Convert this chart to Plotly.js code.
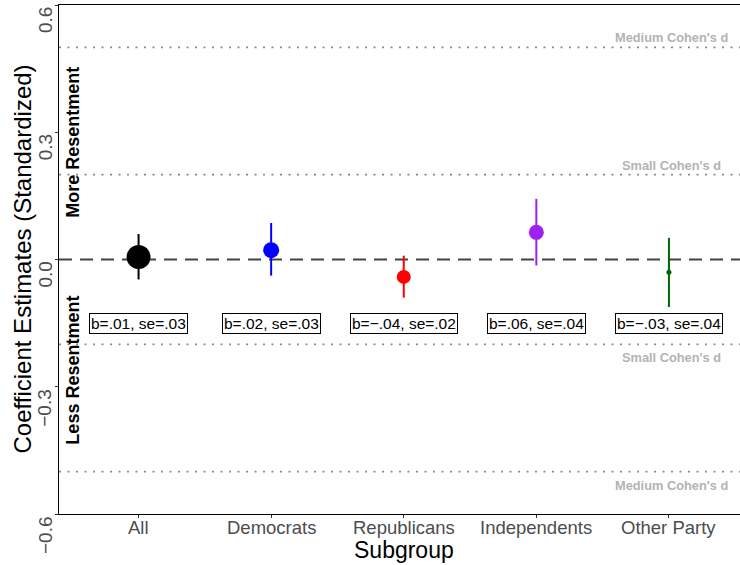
<!DOCTYPE html>
<html>
<head>
<meta charset="utf-8">
<script src="https://cdn.plot.ly/plotly-3.0.1.min.js"></script>
<style>html,body{margin:0;padding:0;background:#fff;}#chart{width:740px;height:565px;}</style>
</head>
<body>
<div id="chart"></div>
<script>
// Data
const categories = ["All", "Democrats", "Republicans", "Independents", "Other Party"];
const estimates = [0.006, 0.022, -0.041, 0.064, -0.030];
const ciLow = [-0.047, -0.038, -0.090, -0.014, -0.112];
const ciHigh = [0.060, 0.086, 0.009, 0.143, 0.051];
const colors = ["#000000", "#0000ff", "#ff0000", "#a020f0", "#006400"];
const markerSizes = [24, 16, 14, 15, 5];
const labels = ["b=.01, se=.03", "b=.02, se=.03", "b=\u2212.04, se=.02", "b=.06, se=.04", "b=\u2212.03, se=.04"];
const labelY = -0.15;
const cohenLines = [0.5, 0.2, -0.2, -0.5];
const cohenNames = ["Medium Cohen's d", "Small Cohen's d", "Small Cohen's d", "Medium Cohen's d"];
const yTickVals = [0.6, 0.3, 0.0, -0.3, -0.6];
const yTickText = ["0.6", "0.3", "0.0", "\u22120.3", "\u22120.6"];

const FONT = "Liberation Sans, Arial, sans-serif";

const traces = categories.map((c, i) => ({
  type: "scatter",
  mode: "markers",
  x: [c],
  y: [estimates[i]],
  marker: {color: colors[i], size: markerSizes[i], line: {width: 0}},
  error_y: {
    type: "data", symmetric: false,
    array: [ciHigh[i] - estimates[i]],
    arrayminus: [estimates[i] - ciLow[i]],
    color: colors[i], thickness: 2, width: 0
  },
  showlegend: false,
  hoverinfo: "skip"
}));

const shapes = [];
cohenLines.forEach(v => shapes.push({
  type: "line", xref: "paper", x0: 0, x1: 1, yref: "y", y0: v, y1: v,
  line: {color: "#8a8a8a", width: 1.6, dash: "2px,6.5px"}, layer: "below"
}));
shapes.push({
  type: "line", xref: "paper", x0: 0, x1: 1, yref: "y", y0: 0, y1: 0,
  line: {color: "#444444", width: 1.8, dash: "13px,8px"}, layer: "below"
});

const annotations = [];
// estimate labels
categories.forEach((c, i) => annotations.push({
  x: c, y: labelY, xref: "x", yref: "y", text: labels[i], showarrow: false,
  font: {family: FONT, size: 15.5, color: "#000"},
  bgcolor: "#ffffff", bordercolor: "#000000", borderwidth: 1, borderpad: 1
}));
// Cohen's d labels
cohenLines.forEach((v, i) => annotations.push({
  x: 4.02, y: v, xref: "x", yref: "y", text: "<b>" + cohenNames[i] + "</b>", showarrow: false,
  yanchor: v > 0 ? "bottom" : "top", yshift: v > 0 ? 0 : -4,
  font: {family: FONT, size: 12.8, color: "#b3b3b3"}
}));
// Region labels
annotations.push({
  x: 0, xref: "paper", xanchor: "center", xshift: 14, y: 0.275, yref: "y",
  text: "<b>More Resentment</b>", textangle: -90, showarrow: false,
  font: {family: FONT, size: 18, color: "#000"}
});
annotations.push({
  x: 0, xref: "paper", xanchor: "center", xshift: 14, y: -0.262, yref: "y",
  text: "<b>Less Resentment</b>", textangle: -90, showarrow: false,
  font: {family: FONT, size: 18, color: "#000"}
});
// y tick labels (rotated, extending below tick)
yTickVals.forEach((v, i) => annotations.push({
  x: 0, xref: "paper", xanchor: "center", xshift: -14, y: v, yref: "y",
  yanchor: "top", text: yTickText[i], textangle: -90, showarrow: false,
  font: {family: FONT, size: 19, color: "#4d4d4d"}
}));
// x tick labels
categories.forEach((c, i) => annotations.push({
  x: c, xref: "x", y: 0, yref: "paper", yanchor: "top", yshift: -1,
  text: c, showarrow: false,
  font: {family: FONT, size: 18.5, color: "#4d4d4d"}
}));
// y title
annotations.push({
  x: 0, xref: "paper", xanchor: "center", xshift: -37, y: 0.5, yref: "paper",
  text: "Coefficient Estimates (Standardized)", textangle: -90, showarrow: false,
  font: {family: FONT, size: 24, color: "#000"}
});
// x title
annotations.push({
  x: "Republicans", xref: "x", y: 0, yref: "paper", yanchor: "middle", yshift: -36,
  text: "Subgroup", showarrow: false,
  font: {family: FONT, size: 23, color: "#000"}
});

const layout = {
  width: 740, height: 565,
  margin: {l: 59, r: 0, t: 5, b: 51},
  paper_bgcolor: "#ffffff", plot_bgcolor: "#ffffff",
  font: {family: FONT},
  xaxis: {
    type: "category", categoryorder: "array", categoryarray: categories,
    range: [-0.6, 4.536], showgrid: false, zeroline: false,
    showline: true, linecolor: "#000", linewidth: 1, mirror: true,
    ticks: "outside", ticklen: 3, tickcolor: "#333", tickwidth: 1,
    showticklabels: false
  },
  yaxis: {
    range: [-0.6, 0.6], showgrid: false, zeroline: false,
    showline: true, linecolor: "#000", linewidth: 1, mirror: false,
    tickvals: yTickVals, ticks: "outside", ticklen: 3, tickcolor: "#333",
    showticklabels: false
  },
  shapes: shapes,
  annotations: annotations
};

Plotly.newPlot("chart", traces, layout, {staticPlot: true});
</script>
</body>
</html>
